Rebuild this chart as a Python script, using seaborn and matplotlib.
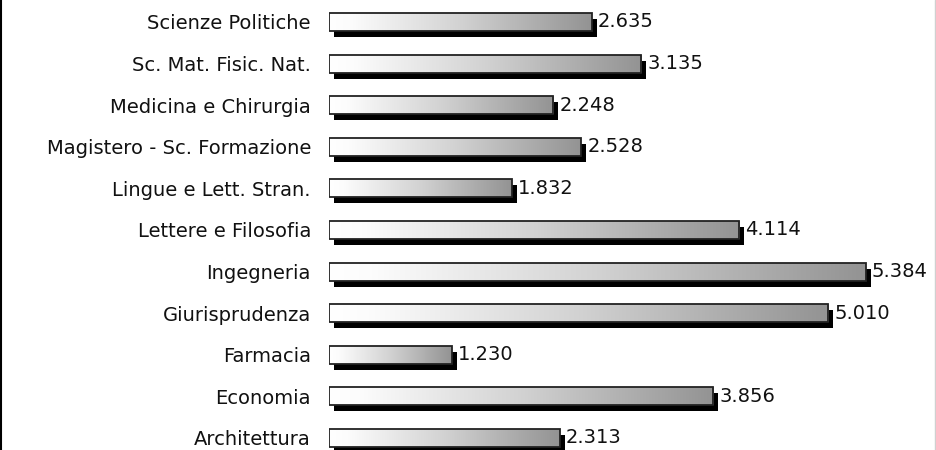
import matplotlib
matplotlib.use("Agg")
import matplotlib.pyplot as plt
import numpy as np
import pandas as pd
import seaborn as sns
from matplotlib.colors import LinearSegmentedColormap
from matplotlib.patches import Rectangle
from matplotlib.lines import Line2D
from matplotlib.transforms import offset_copy

# Data (top to bottom)
facolta = ['Scienze Politiche', 'Sc. Mat. Fisic. Nat.', 'Medicina e Chirurgia',
           'Magistero - Sc. Formazione', 'Lingue e Lett. Stran.', 'Lettere e Filosofia',
           'Ingegneria', 'Giurisprudenza', 'Farmacia', 'Economia', 'Architettura']
iscritti = [2635, 3135, 2248, 2528, 1832, 4114, 5384, 5010, 1230, 3856, 2313]

df = pd.DataFrame({'Facolta': facolta, 'Iscritti': iscritti})

sns.set_style("white")
plt.rcParams['font.family'] = ['DejaVu Sans']

fig = plt.figure(figsize=(9.37, 4.5), dpi=100)
# axes placed so bars start at x=329px and rows are ~41.6px apart
ax = fig.add_axes([329 / 937, 1 - 458.8 / 450, 598 / 937, 457.6 / 450])

sns.barplot(data=df, x='Iscritti', y='Facolta', orient='h', width=0.43,
            color='white', edgecolor='#222222', linewidth=1.3, ax=ax)

# gradient fill + drop shadow for each bar
cmap = LinearSegmentedColormap.from_list(
    'grad', [(0, '#ffffff'), (0.08, '#fcfcfc'), (0.5, '#d2d2d2'), (1, '#939393')])
grad = np.linspace(0, 1, 256).reshape(1, -1)
shadow_tr = offset_copy(ax.transData, fig=fig, x=5, y=-6, units='dots')
bars = list(ax.patches)
for p in bars:
    x0, y0, w, h = p.get_x(), p.get_y(), p.get_width(), p.get_height()
    ax.add_patch(Rectangle((x0, y0), w, h, transform=shadow_tr,
                           facecolor='black', edgecolor='none', zorder=1))
    ax.imshow(grad, extent=(x0, x0 + w, y0 + h, y0), cmap=cmap,
              aspect='auto', zorder=2, interpolation='bilinear')
    p.set_facecolor('none')
    p.set_zorder(3)

labels = [f"{v:,}".replace(",", ".") for v in iscritti]
ax.bar_label(ax.containers[0], labels=labels, padding=4.5, fontsize=14, color='#111111')

ax.set_xlim(0, 6000)
ax.set_ylim(10.5, -0.5)
ax.set_xlabel('')
ax.set_ylabel('')
ax.set_xticks([])
ax.tick_params(axis='y', length=0, pad=13, labelsize=14, labelcolor='#111111')
sns.despine(ax=ax, left=True, bottom=True)
ax.patch.set_alpha(0)

# frame edges visible in the original
fig.add_artist(Line2D([1.5 / 937, 1.5 / 937], [0, 1], color='black', lw=1.5))
fig.add_artist(Line2D([935.5 / 937, 935.5 / 937], [0, 1], color='#d0d0d0', lw=1))

fig.savefig('out.png', dpi=100)
